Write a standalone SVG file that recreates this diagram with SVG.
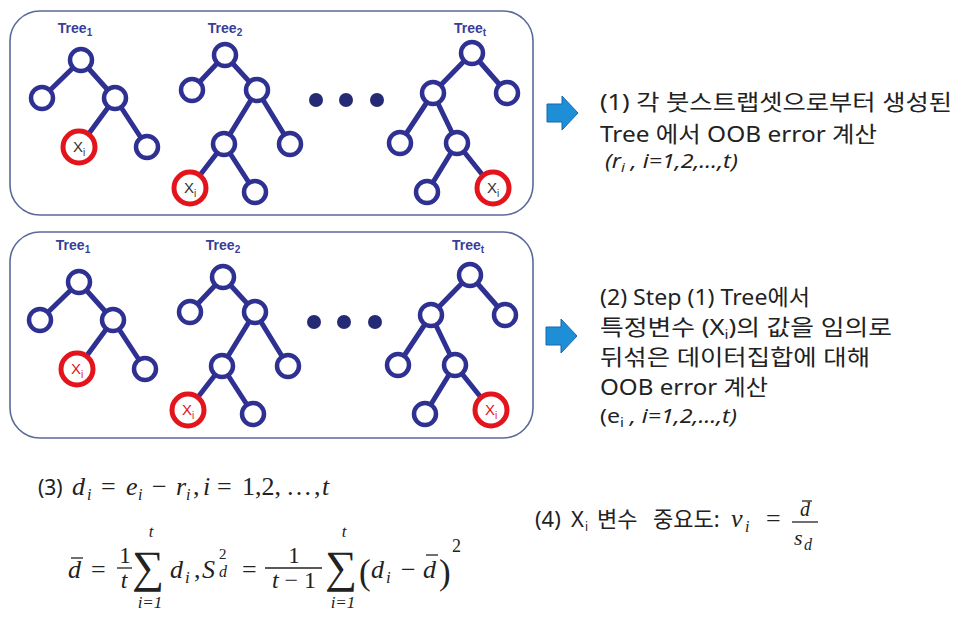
<svg xmlns="http://www.w3.org/2000/svg" width="968" height="622" viewBox="0 0 968 622">
<style>
.box{fill:#fff;stroke:#5a6a98;stroke-width:1.6}
.edge{stroke:#2e3192;stroke-width:5;stroke-linecap:round}
.nd{fill:#fff;stroke:#2e3192;stroke-width:4.5}
.xn{fill:#fff;stroke:#e3141b;stroke-width:5}
.dot{fill:#252a75}
.lbl{font-family:"Liberation Sans","Noto Sans",sans-serif;font-weight:bold;fill:#3a3d99}
.xt{font-family:"Liberation Sans","Noto Sans",sans-serif;fill:#333}
.xr{fill:#e3141b}
.kt{font-family:"Noto Sans","Noto Sans CJK KR",sans-serif;fill:#222}
.it{font-style:italic}
.m{font-family:"Liberation Serif","DejaVu Serif",serif;font-style:italic;fill:#222}
.mr{font-family:"Liberation Serif","DejaVu Serif",serif;fill:#222}
.bar{stroke:#222;stroke-width:1.3}
.arr{fill:#1e8fd6;stroke:#1766a8;stroke-width:1}
</style>
<defs>
<g id="xlab"><text class="xt" font-size="15" text-anchor="middle" x="0" y="5">X<tspan font-size="10" dy="4">i</tspan></text></g>
</defs>

<g id="panel1">
<rect id="box1" class="box" x="10" y="11" width="523" height="204" rx="30"/>
<g font-size="14">
<text class="lbl" x="75" y="33" text-anchor="middle">Tree<tspan font-size="10" dy="3">1</tspan></text>
<text class="lbl" x="225" y="33" text-anchor="middle">Tree<tspan font-size="10" dy="3">2</tspan></text>
<text class="lbl" x="470" y="33" text-anchor="middle">Tree<tspan font-size="10" dy="3">t</tspan></text>
</g>
<g id="connectors1">
<line class="edge" x1="81" y1="60" x2="42" y2="98"/>
<line class="edge" x1="81" y1="60" x2="115" y2="98"/>
<line class="edge" x1="115" y1="98" x2="79" y2="147"/>
<line class="edge" x1="115" y1="98" x2="147" y2="147"/>
<line class="edge" x1="225" y1="55" x2="192" y2="90"/>
<line class="edge" x1="225" y1="55" x2="257" y2="90"/>
<line class="edge" x1="257" y1="90" x2="224" y2="144"/>
<line class="edge" x1="257" y1="90" x2="290" y2="144"/>
<line class="edge" x1="224" y1="144" x2="190" y2="188"/>
<line class="edge" x1="224" y1="144" x2="255" y2="192"/>
<line class="edge" x1="472" y1="53" x2="433" y2="93"/>
<line class="edge" x1="472" y1="53" x2="507" y2="93"/>
<line class="edge" x1="433" y1="93" x2="400" y2="143"/>
<line class="edge" x1="433" y1="93" x2="457" y2="143"/>
<line class="edge" x1="457" y1="143" x2="427" y2="192"/>
<line class="edge" x1="457" y1="143" x2="493" y2="188"/>
</g>
<g id="p1t1n1"><circle class="nd" cx="81" cy="60" r="11"/></g>
<g id="p1t1n2"><circle class="nd" cx="42" cy="98" r="11"/></g>
<g id="p1t1n3"><circle class="nd" cx="115" cy="98" r="11"/></g>
<g id="p1t1x"><circle class="xn" cx="79" cy="147" r="16"/><use href="#xlab" x="79" y="147"/></g>
<g id="p1t1n5"><circle class="nd" cx="147" cy="147" r="11"/></g>
<g id="p1t2n1"><circle class="nd" cx="225" cy="55" r="11"/></g>
<g id="p1t2n2"><circle class="nd" cx="192" cy="90" r="11"/></g>
<g id="p1t2n3"><circle class="nd" cx="257" cy="90" r="11"/></g>
<g id="p1t2n4"><circle class="nd" cx="224" cy="144" r="11"/></g>
<g id="p1t2n5"><circle class="nd" cx="290" cy="144" r="11"/></g>
<g id="p1t2x"><circle class="xn" cx="190" cy="188" r="16"/><use href="#xlab" x="190" y="188"/></g>
<g id="p1t2n7"><circle class="nd" cx="255" cy="192" r="11"/></g>
<g id="p1dots"><circle class="dot" cx="316" cy="100" r="7"/><circle class="dot" cx="346" cy="100" r="7"/><circle class="dot" cx="377" cy="100" r="7"/></g>
<g id="p1ttn1"><circle class="nd" cx="472" cy="53" r="11"/></g>
<g id="p1ttn2"><circle class="nd" cx="433" cy="93" r="11"/></g>
<g id="p1ttn3"><circle class="nd" cx="507" cy="93" r="11"/></g>
<g id="p1ttn4"><circle class="nd" cx="400" cy="143" r="11"/></g>
<g id="p1ttn5"><circle class="nd" cx="457" cy="143" r="11"/></g>
<g id="p1ttn6"><circle class="nd" cx="427" cy="192" r="11"/></g>
<g id="p1ttx"><circle class="xn" cx="493" cy="188" r="16"/><use href="#xlab" x="493" y="188"/></g>
</g>

<g id="panel2">
<rect id="box2" class="box" x="10" y="232" width="523" height="206" rx="30"/>
<g transform="translate(-2,222)">
<g font-size="14">
<text class="lbl" x="75" y="28" text-anchor="middle">Tree<tspan font-size="10" dy="3">1</tspan></text>
<text class="lbl" x="225" y="28" text-anchor="middle">Tree<tspan font-size="10" dy="3">2</tspan></text>
<text class="lbl" x="470" y="28" text-anchor="middle">Tree<tspan font-size="10" dy="3">t</tspan></text>
</g>
<g id="connectors2">
<line class="edge" x1="81" y1="60" x2="42" y2="98"/>
<line class="edge" x1="81" y1="60" x2="115" y2="98"/>
<line class="edge" x1="115" y1="98" x2="79" y2="147"/>
<line class="edge" x1="115" y1="98" x2="147" y2="147"/>
<line class="edge" x1="225" y1="55" x2="192" y2="90"/>
<line class="edge" x1="225" y1="55" x2="257" y2="90"/>
<line class="edge" x1="257" y1="90" x2="224" y2="144"/>
<line class="edge" x1="257" y1="90" x2="290" y2="144"/>
<line class="edge" x1="224" y1="144" x2="190" y2="188"/>
<line class="edge" x1="224" y1="144" x2="255" y2="192"/>
<line class="edge" x1="472" y1="53" x2="433" y2="93"/>
<line class="edge" x1="472" y1="53" x2="507" y2="93"/>
<line class="edge" x1="433" y1="93" x2="400" y2="143"/>
<line class="edge" x1="433" y1="93" x2="457" y2="143"/>
<line class="edge" x1="457" y1="143" x2="427" y2="192"/>
<line class="edge" x1="457" y1="143" x2="493" y2="188"/>
</g>
<g id="p2t1n1"><circle class="nd" cx="81" cy="60" r="11"/></g>
<g id="p2t1n2"><circle class="nd" cx="42" cy="98" r="11"/></g>
<g id="p2t1n3"><circle class="nd" cx="115" cy="98" r="11"/></g>
<g id="p2t1x"><circle class="xn" cx="79" cy="147" r="16"/><text class="xt xr" font-size="15" text-anchor="middle" x="79" y="152">X<tspan font-size="10" dy="4">i</tspan></text></g>
<g id="p2t1n5"><circle class="nd" cx="147" cy="147" r="11"/></g>
<g id="p2t2n1"><circle class="nd" cx="225" cy="55" r="11"/></g>
<g id="p2t2n2"><circle class="nd" cx="192" cy="90" r="11"/></g>
<g id="p2t2n3"><circle class="nd" cx="257" cy="90" r="11"/></g>
<g id="p2t2n4"><circle class="nd" cx="224" cy="144" r="11"/></g>
<g id="p2t2n5"><circle class="nd" cx="290" cy="144" r="11"/></g>
<g id="p2t2x"><circle class="xn" cx="190" cy="188" r="16"/><text class="xt xr" font-size="15" text-anchor="middle" x="190" y="193">X<tspan font-size="10" dy="4">i</tspan></text></g>
<g id="p2t2n7"><circle class="nd" cx="255" cy="192" r="11"/></g>
<g id="p2dots"><circle class="dot" cx="316" cy="100" r="7"/><circle class="dot" cx="346" cy="100" r="7"/><circle class="dot" cx="377" cy="100" r="7"/></g>
<g id="p2ttn1"><circle class="nd" cx="472" cy="53" r="11"/></g>
<g id="p2ttn2"><circle class="nd" cx="433" cy="93" r="11"/></g>
<g id="p2ttn3"><circle class="nd" cx="507" cy="93" r="11"/></g>
<g id="p2ttn4"><circle class="nd" cx="400" cy="143" r="11"/></g>
<g id="p2ttn5"><circle class="nd" cx="457" cy="143" r="11"/></g>
<g id="p2ttn6"><circle class="nd" cx="427" cy="192" r="11"/></g>
<g id="p2ttx"><circle class="xn" cx="493" cy="188" r="16"/><text class="xt xr" font-size="15" text-anchor="middle" x="493" y="193">X<tspan font-size="10" dy="4">i</tspan></text></g>
</g>
</g>

<g id="arrow1"><polygon class="arr" points="547,104 562,104 562,96 578,113 562,130 562,122 547,122"/></g>
<g id="arrow2"><polygon class="arr" points="546,327 561,327 561,319 577,336 561,353 561,345 546,345"/></g>

<g id="text1" font-size="22">
<text class="kt" x="600" y="110" textLength="352" lengthAdjust="spacingAndGlyphs">(1) 각 붓스트랩셋으로부터 생성된</text>
<text class="kt" x="600" y="142" textLength="277" lengthAdjust="spacingAndGlyphs">Tree 에서 OOB error 계산</text>
<text class="kt it" x="605" y="168" font-size="20" textLength="133" lengthAdjust="spacingAndGlyphs">(r<tspan font-size="13" dy="4">i</tspan><tspan dy="-4"> , i=1,2,…,t)</tspan></text>
</g>

<g id="text2" font-size="22">
<text class="kt" x="600" y="305" textLength="210" lengthAdjust="spacingAndGlyphs">(2) Step (1) Tree에서</text>
<text class="kt" x="600" y="335" textLength="292" lengthAdjust="spacingAndGlyphs">특정변수 (X<tspan font-size="13" dy="4">i</tspan><tspan dy="-4">)의 값을 임의로</tspan></text>
<text class="kt" x="600" y="365" textLength="270" lengthAdjust="spacingAndGlyphs">뒤섞은 데이터집합에 대해</text>
<text class="kt" x="600" y="395" textLength="168" lengthAdjust="spacingAndGlyphs">OOB error 계산</text>
<text class="kt" x="600" y="423" font-size="20" textLength="137" lengthAdjust="spacingAndGlyphs">(e<tspan font-size="13" dy="4">i</tspan><tspan dy="-4" font-style="italic"> , i=1,2,…,t)</tspan></text>
</g>

<g id="formula3" font-size="26">
<text class="kt" x="38" y="495" font-size="21">(3)</text>
<text class="m" x="72" y="495">d</text><text class="m" font-size="16" x="87" y="500">i</text>
<text class="mr" x="101" y="495">=</text>
<text class="m" x="126" y="495">e</text><text class="m" font-size="16" x="138" y="500">i</text>
<text class="mr" x="152" y="495">−</text>
<text class="m" x="176" y="495">r</text><text class="m" font-size="16" x="186" y="500">i</text>
<text class="mr" x="193" y="495">,</text>
<text class="m" x="203" y="495">i</text>
<text class="mr" x="217" y="495">=</text>
<text class="mr" x="242" y="495">1,2,</text>
<text class="mr" x="286" y="495">…</text>
<text class="mr" x="314" y="495">,</text>
<text class="m" x="322" y="495">t</text>

<text class="m" x="68" y="578">d</text>
<line class="bar" x1="71" y1="558" x2="83" y2="558"/>
<text class="mr" x="91" y="578">=</text>
<text class="mr" x="125" y="563" font-size="23" text-anchor="middle">1</text>
<line class="bar" x1="117" y1="568" x2="132" y2="568"/>
<text class="m" x="124" y="588" font-size="24" text-anchor="middle">t</text>
<text class="mr" x="148" y="582" font-size="45" text-anchor="middle">∑</text>
<text class="m" x="151" y="537" font-size="17" text-anchor="middle">t</text>
<text class="m" x="150" y="608" font-size="17" text-anchor="middle">i=1</text>
<text class="m" x="170" y="578">d</text><text class="m" x="185" y="583" font-size="17">i</text>
<text class="mr" x="194" y="578">,</text>
<text class="m" x="202" y="578">S</text>
<text class="mr" x="219" y="559" font-size="15">2</text>
<text class="m" x="219" y="577" font-size="16">d</text>
<text class="mr" x="242" y="578">=</text>
<text class="mr" x="294" y="563" font-size="23" text-anchor="middle">1</text>
<line class="bar" x1="265" y1="568" x2="322" y2="568"/>
<text x="294" y="588" font-size="24" text-anchor="middle"><tspan class="m">t</tspan><tspan class="mr"> − 1</tspan></text>
<text class="mr" x="341" y="582" font-size="45" text-anchor="middle">∑</text>
<text class="m" x="344" y="537" font-size="17" text-anchor="middle">t</text>
<text class="m" x="343" y="608" font-size="17" text-anchor="middle">i=1</text>
<text class="mr" x="359" y="584" font-size="35">(</text>
<text class="m" x="371" y="578">d</text><text class="m" x="386" y="583" font-size="17">i</text>
<text class="mr" x="401" y="578">−</text>
<text class="m" x="423" y="578">d</text>
<line class="bar" x1="426" y1="555" x2="438" y2="555"/>
<text class="mr" x="439" y="584" font-size="35">)</text>
<text class="mr" x="452" y="552" font-size="18">2</text>
</g>

<g id="formula4" font-size="26">
<text class="kt" x="535" y="527" font-size="22">(4)</text>
<text class="kt" x="571" y="527" font-size="22">X</text>
<text class="kt" x="585" y="531" font-size="12">i</text>
<text class="kt" x="597" y="527" font-size="22">변수</text>
<text class="kt" x="653" y="527" font-size="22">중요도:</text>
<text class="m" x="731" y="527">v</text><text class="m" font-size="16" x="745" y="532">i</text>
<text class="mr" x="766" y="527">=</text>
<text class="m" x="800" y="516" font-size="20">d</text>
<line class="bar" x1="802" y1="501" x2="812" y2="501" stroke-width="1.1"/>
<line class="bar" x1="792" y1="522" x2="818" y2="522" stroke-width="1.2"/>
<text class="m" x="794" y="545" font-size="22">s</text>
<text class="m" x="804" y="550" font-size="16">d</text>
</g>
</svg>
